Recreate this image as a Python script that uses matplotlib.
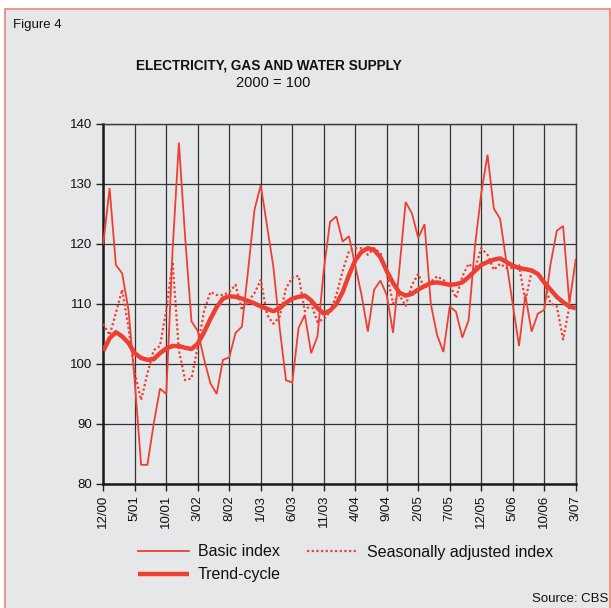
import matplotlib
matplotlib.use("Agg")
import matplotlib.pyplot as plt
from matplotlib.patches import Rectangle
from matplotlib.lines import Line2D
import numpy as np

plt.rcParams['font.family'] = ['Liberation Sans', 'DejaVu Sans']

# monthly observations Dec 2000 .. Mar 2007
tick_labels = ["12/00", "5/01", "10/01", "3/02", "8/02", "1/03", "6/03", "11/03",
               "4/04", "9/04", "2/05", "7/05", "12/05", "5/06", "10/06", "3/07"]

basic_index = [120.1, 129.3, 116.5, 115.1, 109.0, 97.0, 83.2, 83.2, 90.0, 95.9,
               95.0, 119.0, 136.9, 121.0, 107.1, 105.5, 100.8, 96.8, 95.0, 100.7,
               101.1, 105.2, 106.2, 115.7, 125.7, 129.8, 123.0, 116.2, 106.0, 97.3,
               96.9, 106.0, 108.2, 101.8, 104.6, 115.6, 123.7, 124.6, 120.4, 121.3,
               116.4, 111.5, 105.4, 112.4, 113.9, 111.5, 105.2, 115.8, 127.0, 125.1,
               121.0, 123.3, 110.0, 104.8, 102.0, 109.6, 108.7, 104.4, 107.3, 119.6,
               128.4, 134.9, 125.9, 124.2, 117.0, 110.0, 103.0, 111.5, 105.4, 108.4,
               109.0, 116.6, 122.2, 123.0, 110.1, 117.4]

seasonally_adjusted = [106.7, 104.8, 108.5, 112.4, 106.0, 98.5, 94.0, 98.4, 102.3, 103.0,
                       109.0, 117.0, 102.3, 97.3, 97.6, 102.9, 108.8, 112.0, 111.5, 111.5,
                       112.0, 113.2, 109.0, 110.4, 111.8, 114.0, 108.2, 106.7, 107.9, 112.6,
                       114.4, 114.7, 108.8, 110.0, 107.0, 107.5, 108.7, 111.5, 115.5, 118.8,
                       119.3, 119.3, 118.2, 119.3, 118.5, 115.0, 110.1, 111.5, 109.7, 113.2,
                       115.0, 112.6, 113.7, 114.6, 114.0, 113.2, 111.0, 114.6, 116.7, 115.8,
                       119.3, 118.2, 115.7, 116.7, 116.0, 116.0, 116.5, 110.5, 115.4, 115.1,
                       113.5, 110.1, 109.6, 104.1, 109.6, 109.1]

trend_cycle = [102.2, 104.3, 105.3, 104.6, 103.5, 101.8, 101.0, 100.7, 100.8, 101.8,
               102.6, 103.0, 103.0, 102.7, 102.5, 103.4, 105.3, 107.5, 109.5, 110.9,
               111.3, 111.2, 110.9, 110.5, 110.1, 109.6, 109.2, 108.8, 109.3, 110.2,
               110.9, 111.2, 111.4, 110.6, 109.3, 108.4, 108.9, 110.0, 112.0, 114.8,
               117.3, 118.7, 119.3, 119.0, 117.8, 115.5, 113.5, 111.9, 111.4, 111.7,
               112.4, 113.0, 113.5, 113.6, 113.4, 113.2, 113.3, 113.6, 114.5, 115.5,
               116.5, 117.0, 117.4, 117.6, 117.0, 116.4, 116.0, 115.8, 115.6, 115.0,
               113.6, 112.4, 111.2, 110.3, 109.6, 109.3]

y_ticks = [80, 90, 100, 110, 120, 130, 140]

W, H = 611, 608
RED = '#EE3F33'
BG = '#E6E7E8'

fig = plt.figure(figsize=(W / 100, H / 100), dpi=100)
fig.patch.set_facecolor('white')
bg = Rectangle((4.7 / W, -0.01), (609.5 - 4.7) / W, 1 - 9 / H + 0.01,
               transform=fig.transFigure, facecolor=BG,
               edgecolor='#EE8A80', lw=1.3, zorder=-10)
fig.add_artist(bg)

left, right, top, bottom = 103.3, 575.7, 124, 484
ax = fig.add_axes([left / W, 1 - bottom / H, (right - left) / W, (bottom - top) / H])
ax.set_zorder(5)
ax.set_facecolor(BG)

x = np.arange(len(basic_index))
ax.plot(x, basic_index, color=RED, lw=1.3, zorder=3, solid_joinstyle='miter')
ax.plot(x, seasonally_adjusted, color=RED, lw=1.6, linestyle=(0, (1, 1.1)), zorder=3)
ax.plot(x, trend_cycle, color=RED, lw=3.2, zorder=4, solid_capstyle='butt')

ax.set_xlim(0, len(basic_index) - 1)
ax.set_ylim(80, 140)
ax.set_xticks(np.arange(0, len(basic_index), 5))
ax.set_xticklabels(tick_labels, rotation=90, fontsize=9.5)
ax.set_yticks(y_ticks)
ax.set_yticklabels([str(v) for v in y_ticks], fontsize=9.5)
ax.grid(True, color='#333333', lw=0.9)
ax.set_axisbelow(True)
ax.tick_params(axis='both', direction='out', length=5, width=1.0, color='#222222',
               labelcolor='#111111', pad=3)
for s in ['left', 'bottom']:
    ax.spines[s].set_linewidth(1.8)
    ax.spines[s].set_color('#1a1a1a')
for s in ['top', 'right']:
    ax.spines[s].set_linewidth(1.0)
    ax.spines[s].set_color('#3a3a3a')

fig.text(13 / W, 1 - 25 / H, 'Figure 4', fontsize=9.5, va='center', ha='left', color='#111111')
fig.text(269 / W, 1 - 65 / H, 'ELECTRICITY, GAS AND WATER SUPPLY', fontsize=9.8,
         fontweight='bold', ha='center', va='center', color='#111111')
fig.text(273 / W, 1 - 83 / H, '2000 = 100', fontsize=10.5, ha='center', va='center',
         color='#111111')

# legend
def leg(x1, x2, y, **kw):
    fig.add_artist(Line2D([x1 / W, x2 / W], [1 - y / H, 1 - y / H],
                          transform=fig.transFigure, color=RED, **kw))

leg(138, 189, 551, lw=1.3)
fig.text(198 / W, 1 - 552 / H, 'Basic index', fontsize=11.5, va='center', color='#111111')
leg(307, 358, 551, lw=1.6, linestyle=(0, (1, 1.1)))
fig.text(367 / W, 1 - 552 / H, 'Seasonally adjusted index', fontsize=11.5, va='center',
         color='#111111')
leg(138, 189, 574, lw=3.2, solid_capstyle='butt')
fig.text(198 / W, 1 - 575 / H, 'Trend-cycle', fontsize=11.5, va='center', color='#111111')

fig.text(608 / W, 1 - 599 / H, 'Source: CBS', fontsize=9.5, ha='right', va='center',
         color='#111111')

fig.savefig('out.png', dpi=100, facecolor=fig.get_facecolor())
